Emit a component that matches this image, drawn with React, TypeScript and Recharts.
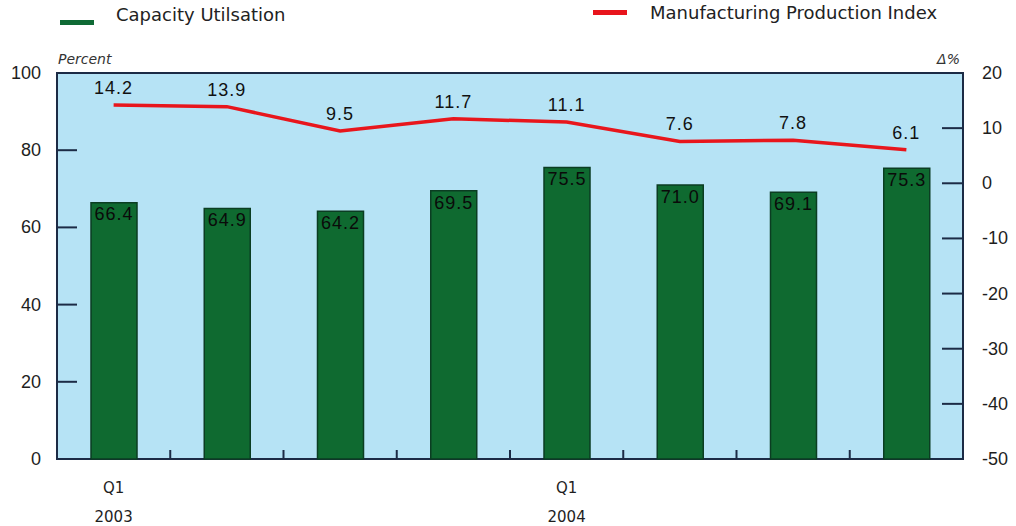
import React from "react";
import {
  ComposedChart,
  Bar,
  Line,
  XAxis,
  YAxis,
  CartesianGrid,
  LabelList,
  ReferenceArea,
} from "recharts";

const quarters = ["Q1", "Q2", "Q3", "Q4", "Q1", "Q2", "Q3", "Q4"];
const years = ["2003", "", "", "", "2004", "", "", ""];
const capacityUtilisation = [66.4, 64.9, 64.2, 69.5, 75.5, 71.0, 69.1, 75.3];
const productionIndex = [14.2, 13.9, 9.5, 11.7, 11.1, 7.6, 7.8, 6.1];
const leftTicks = [0, 20, 40, 60, 80, 100];
const rightTicks = [-50, -40, -30, -20, -10, 0, 10, 20];

const data = quarters.map((q, i) => ({
  key: `${q}-${i}`,
  quarter: q,
  year: years[i],
  capacity: capacityUtilisation[i],
  mpi: productionIndex[i],
}));

const AXIS_COLOR = "#1c2b45";
const TEXT_COLOR = "#1e1e1e";
const NUM_FONT = "'Liberation Sans', Arial, sans-serif";
const LABEL_FONT = "'DejaVu Sans', 'Noto Sans', sans-serif";

const LeftTick = (props: any) => {
  const { x, y, payload, index } = props;
  const edge = x + 8; // axis line position (tickMargin offset)
  return (
    <g>
      {index !== 0 && index !== leftTicks.length - 1 && (
        <line x1={edge} x2={edge + 20} y1={y} y2={y} stroke={AXIS_COLOR} strokeWidth={2} />
      )}
      <text x={edge - 16} y={y} dy={6} textAnchor="end" fontSize={18} fontFamily={NUM_FONT} fill={TEXT_COLOR}>
        {payload.value}
      </text>
    </g>
  );
};

const RightTick = (props: any) => {
  const { x, y, payload, index } = props;
  const edge = x - 8;
  return (
    <g>
      {index !== 0 && index !== rightTicks.length - 1 && (
        <line x1={edge - 21} x2={edge} y1={y} y2={y} stroke={AXIS_COLOR} strokeWidth={2} />
      )}
      <text x={edge + 19} y={y} dy={6} textAnchor="start" fontSize={18} fontFamily={NUM_FONT} fill={TEXT_COLOR}>
        {payload.value}
      </text>
    </g>
  );
};

const BottomTick = (props: any) => {
  const { x, y, payload, index } = props;
  const half = payload.offset ?? 56.6;
  const row = data[index];
  const base = y - 8;
  return (
    <g>
      {index > 0 && (
        <line x1={x - half} x2={x - half} y1={base} y2={base - 9} stroke={AXIS_COLOR} strokeWidth={2} />
      )}
      {row && row.year && (
        <>
          <text x={x} y={base + 34} textAnchor="middle" fontSize={15} fontFamily={LABEL_FONT} fill={TEXT_COLOR}>
            {row.quarter}
          </text>
          <text x={x} y={base + 63} textAnchor="middle" fontSize={15} fontFamily={LABEL_FONT} fill={TEXT_COLOR}>
            {row.year}
          </text>
        </>
      )}
    </g>
  );
};

const legendItems = [
  { name: "Capacity Utilsation", color: "#0f6a35", left: 60, top: 20, textLeft: 116, textTop: 5 },
  { name: "Manufacturing Production Index", color: "#e8141c", left: 593, top: 10, textLeft: 650, textTop: 3 },
];

export default function App() {
  return (
    <div style={{ position: "absolute", left: 0, top: 0, width: 1016, height: 526, background: "#fff" }}>
      {legendItems.map((item) => (
        <React.Fragment key={item.name}>
          <div
            style={{
              position: "absolute",
              left: item.left,
              top: item.top,
              width: 34,
              height: 5,
              background: item.color,
            }}
          />
          <div
            style={{
              position: "absolute",
              left: item.textLeft,
              top: item.textTop,
              fontFamily: LABEL_FONT,
              fontSize: 18,
              lineHeight: "20px",
              color: "#222",
              whiteSpace: "nowrap",
            }}
          >
            {item.name}
          </div>
        </React.Fragment>
      ))}
      <ComposedChart
        width={1016}
        height={526}
        data={data}
        margin={{ top: 73, right: 8, bottom: 7, left: 8 }}
        barSize={46}
        style={{ position: "absolute", left: 0, top: 0 }}
      >
        <CartesianGrid fill="#b6e3f5" horizontal={false} vertical={false} />
        <XAxis
          dataKey="key"
          axisLine={false}
          tickLine={false}
          height={60}
          interval={0}
          tick={<BottomTick />}
        />
        <YAxis
          yAxisId="left"
          orientation="left"
          domain={[0, 100]}
          ticks={leftTicks}
          width={49}
          axisLine={false}
          tickLine={false}
          tickMargin={8}
          tickSize={0}
          tick={<LeftTick />}
          label={{
            position: "top",
            content: ({ viewBox }: any) => (
              <text
                x={viewBox.x + viewBox.width + 1}
                y={viewBox.y - 9}
                fontSize={14}
                fontStyle="italic"
                fontFamily={LABEL_FONT}
                fill="#333"
              >
                Percent
              </text>
            ),
          }}
        />
        <YAxis
          yAxisId="right"
          orientation="right"
          domain={[-50, 20]}
          ticks={rightTicks}
          width={45}
          axisLine={false}
          tickLine={false}
          tickMargin={8}
          tickSize={0}
          tick={<RightTick />}
          label={{
            position: "top",
            content: ({ viewBox }: any) => (
              <text
                x={viewBox.x - 3}
                y={viewBox.y - 9}
                textAnchor="end"
                fontSize={14}
                fontStyle="italic"
                fontFamily={LABEL_FONT}
                fill="#333"
              >
                Δ%
              </text>
            ),
          }}
        />
        <Bar
          yAxisId="left"
          dataKey="capacity"
          fill="#0f6a30"
          stroke="#0b3d22"
          strokeWidth={1.5}
          isAnimationActive={false}
        >
          <LabelList
            dataKey="capacity"
            position="insideTop"
            offset={5}
            formatter={(v: any) => Number(v).toFixed(1)}
            style={{ fontSize: 18, fontFamily: NUM_FONT, fill: "#0a0a0a", letterSpacing: 1 }}
          />
        </Bar>
        <Line
          yAxisId="right"
          dataKey="mpi"
          stroke="#e8161c"
          strokeWidth={3.5}
          dot={false}
          activeDot={false}
          isAnimationActive={false}
        >
          <LabelList
            dataKey="mpi"
            position="top"
            offset={11}
            formatter={(v: any) => Number(v).toFixed(1)}
            style={{ fontSize: 18, fontFamily: NUM_FONT, fill: "#111", letterSpacing: 1 }}
          />
        </Line>
        <ReferenceArea
          yAxisId="left"
          y1={0}
          y2={100}
          fill="none"
          stroke={AXIS_COLOR}
          strokeWidth={2}
          ifOverflow="visible"
        />
      </ComposedChart>
    </div>
  );
}
